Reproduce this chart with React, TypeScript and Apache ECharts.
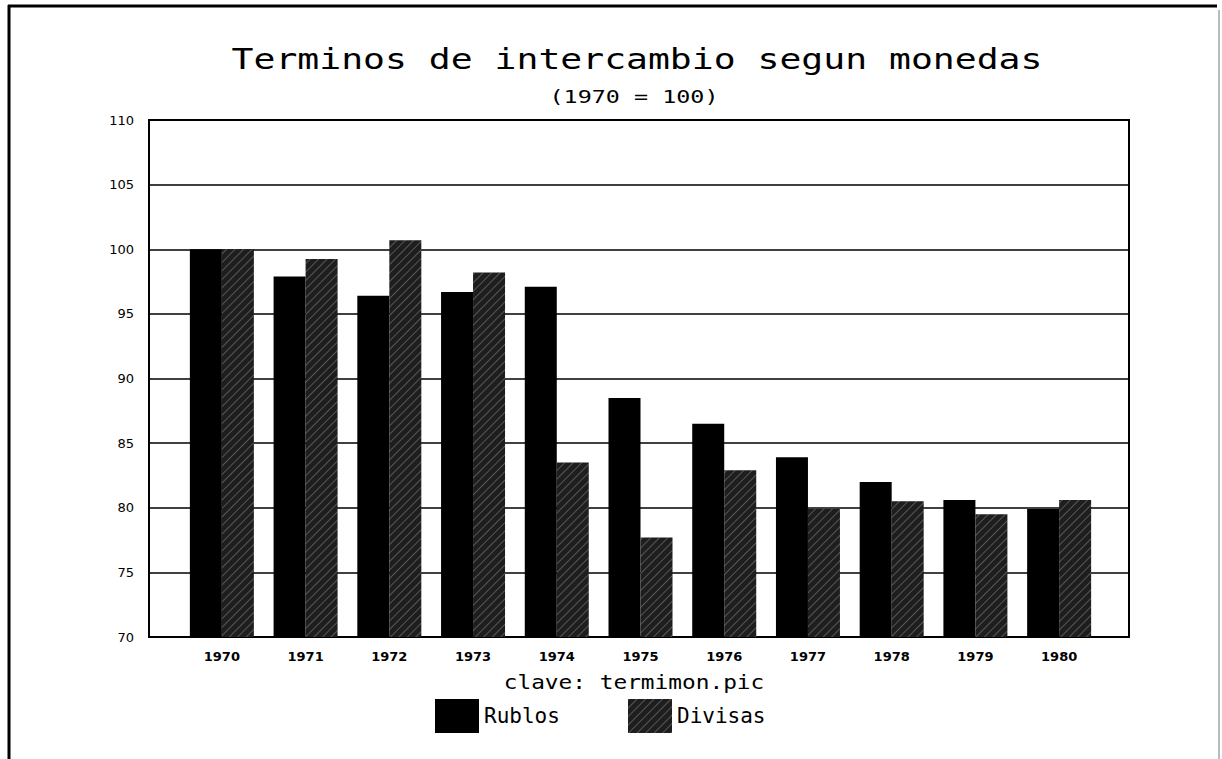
import React, { useEffect, useRef } from "react";
import * as echarts from "echarts";

const years = ["1970", "1971", "1972", "1973", "1974", "1975", "1976", "1977", "1978", "1979", "1980"];
const rublos = [100, 97.9, 96.4, 96.7, 97.1, 88.5, 86.5, 83.9, 82.0, 80.6, 79.9];
const divisas = [100, 99.25, 100.7, 98.2, 83.5, 77.7, 82.9, 79.9, 80.5, 79.5, 80.6];
const titleText = "Terminos de intercambio segun monedas";
const subtitleText = "(1970 = 100)";
const footText = "clave: termimon.pic";
const seriesNames = ["Rublos", "Divisas"];

const MONO = "'DejaVu Sans Mono', 'Liberation Mono', monospace";

export default function App() {
  const ref = useRef<HTMLDivElement>(null);
  useEffect(() => {
    if (!ref.current) return;
    const chart = echarts.init(ref.current, null, { renderer: "svg" });
    const hatch = {
      symbol: "rect",
      symbolSize: 1,
      dashArrayX: [1, 0],
      dashArrayY: [1, 5],
      rotation: -Math.PI / 4,
      color: "rgba(255,255,255,0.25)",
    };
    const legendBase = {
      top: 699,
      padding: 0,
      itemWidth: 44,
      itemHeight: 34,
      icon: "rect",
      itemGap: 0,
      textStyle: { fontFamily: MONO, fontSize: 21, color: "#000", padding: [14, 0, 0, 0] },
    };
    chart.setOption({
      animation: false,
      backgroundColor: "#fff",
      grid: [
        { left: 149, right: 93, top: 120, bottom: 122, show: true, borderColor: "#000", borderWidth: 2, backgroundColor: "transparent" },
        { left: 180, right: 121, top: 120, bottom: 122 },
      ],
      xAxis: [
        { gridIndex: 0, type: "value", min: 0, max: 1, show: false },
        {
          gridIndex: 1,
          type: "category",
          data: years,
          axisLine: { show: false },
          axisTick: { show: false },
          axisLabel: { margin: 13, color: "#000", fontFamily: "'DejaVu Sans', sans-serif", fontWeight: "bold", fontSize: 13 },
        },
      ],
      yAxis: [
        {
          gridIndex: 0,
          type: "value",
          min: 70,
          max: 110,
          interval: 5,
          axisLine: { show: false },
          axisTick: { show: false },
          axisLabel: { margin: 15, color: "#000", fontFamily: "'DejaVu Sans', sans-serif", fontSize: 13 },
          splitLine: { lineStyle: { color: "#000", width: 1.5 } },
        },
        { gridIndex: 1, type: "value", min: 70, max: 110, show: false, splitLine: { show: false } },
      ],
      legend: [
        { ...legendBase, left: 435, data: [seriesNames[0]] },
        { ...legendBase, left: 628, data: [seriesNames[1]] },
      ],
      series: [
        {
          name: seriesNames[0],
          type: "bar",
          xAxisIndex: 1,
          yAxisIndex: 1,
          data: rublos,
          barWidth: 32,
          barGap: "0%",
          itemStyle: { color: "#000" },
        },
        {
          name: seriesNames[1],
          type: "bar",
          xAxisIndex: 1,
          yAxisIndex: 1,
          data: divisas,
          barWidth: 32,
          barGap: "0%",
          itemStyle: { color: "#1e1e1e", decal: hatch },
        },
      ],
      graphic: [
        { type: "line", shape: { x1: 8, y1: 6, x2: 1217, y2: 6 }, style: { stroke: "#000", lineWidth: 3 } },
        { type: "line", shape: { x1: 9, y1: 5, x2: 9, y2: 759 }, style: { stroke: "#000", lineWidth: 3 } },
        { type: "line", shape: { x1: 1219, y1: 10, x2: 1219, y2: 759 }, style: { stroke: "#777", lineWidth: 1 } },
        {
          type: "text",
          x: 637,
          y: 60,
          scaleX: 1.3,
          style: { text: titleText, fontFamily: MONO, fontSize: 28, fill: "#000", align: "center", verticalAlign: "middle" },
        },
        {
          type: "text",
          x: 634,
          y: 97,
          scaleX: 1.3,
          style: { text: subtitleText, fontFamily: MONO, fontSize: 18, fill: "#000", align: "center", verticalAlign: "middle" },
        },
        {
          type: "text",
          x: 634,
          y: 683,
          scaleX: 1.2,
          style: { text: footText, fontFamily: MONO, fontSize: 19, fill: "#000", align: "center", verticalAlign: "middle" },
        },
      ],
    });
    return () => chart.dispose();
  }, []);
  return <div ref={ref} style={{ position: "fixed", left: 0, top: 0, width: 1222, height: 759 }} />;
}
